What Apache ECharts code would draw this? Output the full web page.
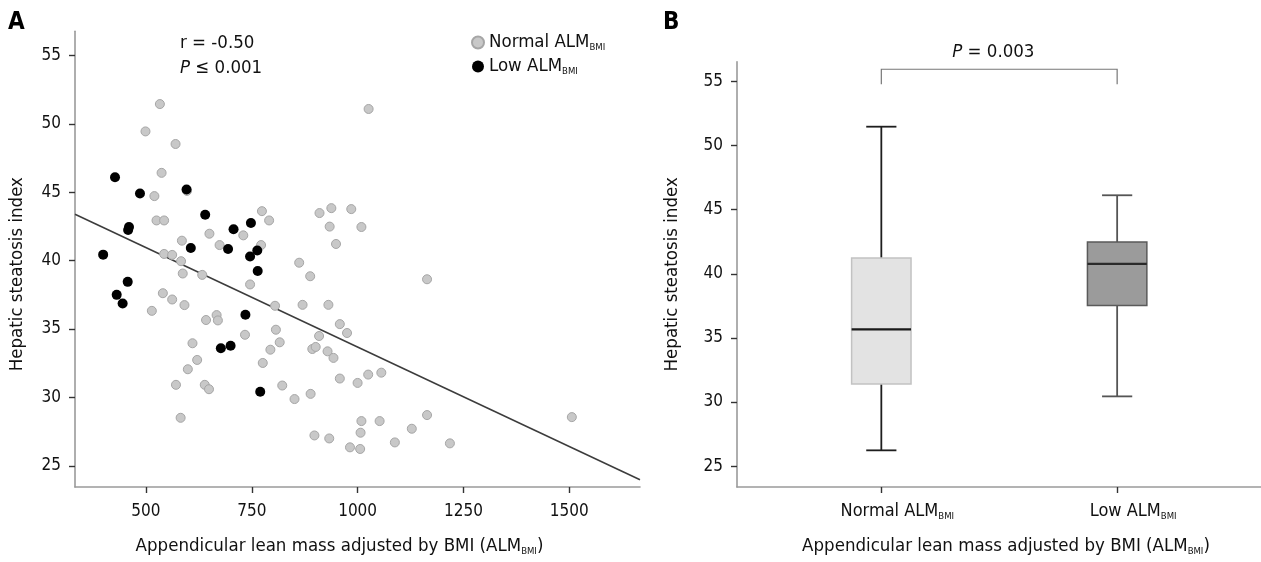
<!DOCTYPE html>
<html><head><meta charset="utf-8">
<script src="https://cdn.jsdelivr.net/npm/echarts@6/dist/echarts.min.js"></script>
<style>html,body{margin:0;padding:0;background:#fff}#c{width:1261px;height:562px}</style>
</head><body><div id="c"></div>
<script>
// ---- Panel A data: scatter of HSI vs ALM_BMI ----
const normalX = [533,499,570,537,597,520,774,791,525,543,650,730,674,772,585,543,562,583,587,633,862,888,746,540,562,591,514,667,670,642,805,870,807,734,610,816,794,621,599,776,571,639,649,822,851,889,582,1026,910,938,985,934,1009,949,1164,931,958,975,909,893,901,929,943,958,1000,1025,1056,1506,1164,1009,1052,1007,1128,898,933,982,1006,1088,1218];
const normalY = [51.45,49.45,48.53,46.42,45.1,44.72,43.62,42.94,42.94,42.94,41.97,41.85,41.14,41.14,41.46,40.49,40.42,39.96,39.06,38.96,39.85,38.86,38.26,37.62,37.16,36.75,36.33,36.02,35.63,35.66,36.7,36.77,34.95,34.58,33.96,34.03,33.49,32.74,32.06,32.52,30.92,30.92,30.6,30.87,29.88,30.26,28.51,51.09,43.48,43.84,43.77,42.49,42.46,41.22,38.64,36.77,35.36,34.71,34.49,33.54,33.69,33.37,32.89,31.38,31.06,31.67,31.81,28.56,28.71,28.27,28.27,27.42,27.71,27.22,27.0,26.35,26.23,26.71,26.64];
const lowX = [427,486,596,640,460,458,707,748,606,694,399,763,746,764,457,431,445,735,677,700,770];
const lowY = [46.1,44.91,45.2,43.36,42.46,42.24,42.29,42.75,40.93,40.85,40.44,40.74,40.3,39.25,38.45,37.5,36.87,36.04,33.59,33.78,30.41];
const fitIntercept = 48.23;
const fitSlope = -0.014545;
const scatterXRange = [332.5, 1667];
const scatterYRange = [23.45, 56.77];
const scatterXTicks = [500, 750, 1000, 1250, 1500];
const scatterYTicks = [25, 30, 35, 40, 45, 50, 55];
const corrR = '-0.50';
const corrP = '0.001';

// ---- Panel B data: box plot ----
const boxCategories = ['Normal ALM', 'Low ALM'];
const boxNormal = [26.23, 31.40, 35.67, 41.23, 51.48]; // min, Q1, median, Q3, max
const boxLow = [30.44, 37.53, 40.77, 42.48, 46.13];
const boxYRange = [23.37, 56.55];
const boxYTicks = [25, 30, 35, 40, 45, 50, 55];
const groupP = '0.003';

const FONT = '"DejaVu Sans Condensed", "DejaVu Sans", sans-serif';
const FS = 17;     // tick labels
const FT = 18.5;   // titles, legend, annotations
const TXT = '#111';
const mkRich = (fs, sub) => ({
  a: { fontSize: fs, color: TXT, fontFamily: FONT, lineHeight: 21 },
  s: { fontSize: sub, color: TXT, fontFamily: FONT, verticalAlign: 'bottom', lineHeight: 9 }
});
const richTitle = mkRich(FT, 9.5);
const richCat = mkRich(18, 9.5);
const axisLineStyle = { color: '#9a9a9a', width: 1.6 };
const tickStyle = { color: '#333', width: 1.4 };
const plainNum = v => String(v);

const chart = echarts.init(document.getElementById('c'), null, { renderer: 'canvas' });

const boxData = [[1].concat(boxNormal), [2].concat(boxLow)];
const boxStyles = [
  { fill: '#e3e3e3', stroke: '#c2c2c2', whisker: '#1e1e1e', median: '#1a1a1a' },
  { fill: '#9b9b9b', stroke: '#5a5a5a', whisker: '#555555', median: '#2a2a2a' }
];
const BOX_W = 0.252, CAP_W = 0.128;

const option = {
  animation: false,
  backgroundColor: '#fff',
  textStyle: { fontFamily: FONT },
  grid: [
    { left: 75, top: 31.3, width: 565, bottom: 73, containLabel: false },
    { left: 737, top: 61.7, right: 0, bottom: 73, containLabel: false }
  ],
  legend: {
    data: ['Normal', 'Low'],
    orient: 'vertical',
    left: 466, top: 28,
    itemWidth: 12, itemHeight: 12, itemGap: 4,
    icon: 'circle',
    formatter: n => '{a|' + n + ' ALM}{s|BMI}',
    textStyle: { rich: richTitle }
  },
  xAxis: [
    {
      gridIndex: 0, type: 'value', min: scatterXRange[0], max: scatterXRange[1],
      axisLine: { lineStyle: axisLineStyle },
      axisTick: { show: true, length: 6, lineStyle: tickStyle, customValues: scatterXTicks },
      axisLabel: { color: TXT, fontSize: FS, fontFamily: FONT, margin: 16, customValues: scatterXTicks, formatter: plainNum },
      splitLine: { show: false },
      name: '{a|Appendicular lean mass adjusted by BMI (ALM}{s|BMI}{a|)}',
      nameLocation: 'middle', nameGap: 49,
      nameTextStyle: { rich: richTitle, padding: [0, 36, 0, 0] }
    },
    {
      gridIndex: 1, type: 'value', min: 0.388, max: 2.61,
      axisLine: { lineStyle: axisLineStyle },
      axisTick: { show: true, length: 6, lineStyle: tickStyle, customValues: [1, 2] },
      axisLabel: {
        customValues: [1, 2], margin: 14,
        formatter: v => '{a|' + boxCategories[Math.round(v) - 1] + '}{s|BMI}',
        rich: richCat, padding: [0, 0, 0, 32]
      },
      splitLine: { show: false },
      name: '{a|Appendicular lean mass adjusted by BMI (ALM}{s|BMI}{a|)}',
      nameLocation: 'middle', nameGap: 49,
      nameTextStyle: { rich: richTitle, padding: [0, 0, 0, 14] }
    }
  ],
  yAxis: [
    {
      gridIndex: 0, type: 'value', min: scatterYRange[0], max: scatterYRange[1],
      axisLine: { show: true, lineStyle: axisLineStyle },
      axisTick: { show: true, length: 6, lineStyle: tickStyle, customValues: scatterYTicks },
      axisLabel: { color: TXT, fontSize: FS, fontFamily: FONT, margin: 14, customValues: scatterYTicks, formatter: plainNum },
      splitLine: { show: false },
      name: 'Hepatic steatosis index', nameLocation: 'middle', nameGap: 48, nameRotate: 90,
      nameTextStyle: { color: TXT, fontSize: FT, fontFamily: FONT, padding: [0, 30, 0, 0] }
    },
    {
      gridIndex: 1, type: 'value', min: boxYRange[0], max: boxYRange[1],
      axisLine: { show: true, lineStyle: axisLineStyle },
      axisTick: { show: true, length: 6, lineStyle: tickStyle, customValues: boxYTicks },
      axisLabel: { color: TXT, fontSize: FS, fontFamily: FONT, margin: 14, customValues: boxYTicks, formatter: plainNum },
      splitLine: { show: false },
      name: 'Hepatic steatosis index', nameLocation: 'middle', nameGap: 55, nameRotate: 90,
      nameTextStyle: { color: TXT, fontSize: FT, fontFamily: FONT }
    }
  ],
  series: [
    {
      name: 'Fit', type: 'line', xAxisIndex: 0, yAxisIndex: 0, symbol: 'none', silent: true,
      lineStyle: { color: '#3c3c3c', width: 1.5 },
      data: scatterXRange.map(x => [x, fitIntercept + fitSlope * x]), z: 1
    },
    {
      name: 'Normal', type: 'scatter', xAxisIndex: 0, yAxisIndex: 0, symbolSize: 9,
      itemStyle: { color: '#c8c8c8', borderColor: '#a6a6a6', borderWidth: 1, opacity: 1 },
      data: normalX.map((x, i) => [x, normalY[i]]), z: 2
    },
    {
      name: 'Low', type: 'scatter', xAxisIndex: 0, yAxisIndex: 0, symbolSize: 10,
      itemStyle: { color: '#000', borderColor: '#000', borderWidth: 0, opacity: 1 },
      data: lowX.map((x, i) => [x, lowY[i]]), z: 3
    },
    {
      name: 'Box', type: 'custom', xAxisIndex: 1, yAxisIndex: 1,
      data: boxData,
      renderItem: function (params, api) {
        const x = api.value(0);
        const st = boxStyles[params.dataIndex];
        const c = api.coord([x, api.value(1)])[0];
        const yMin = api.coord([x, api.value(1)])[1];
        const yQ1 = api.coord([x, api.value(2)])[1];
        const yMed = api.coord([x, api.value(3)])[1];
        const yQ3 = api.coord([x, api.value(4)])[1];
        const yMax = api.coord([x, api.value(5)])[1];
        const hw = api.size([BOX_W, 0])[0] / 2;
        const cw = api.size([CAP_W, 0])[0] / 2;
        const wl = { stroke: st.whisker, lineWidth: 1.8 };
        return {
          type: 'group',
          children: [
            { type: 'line', shape: { x1: c, y1: yMax, x2: c, y2: yQ3 }, style: wl },
            { type: 'line', shape: { x1: c, y1: yQ1, x2: c, y2: yMin }, style: wl },
            { type: 'line', shape: { x1: c - cw, y1: yMax, x2: c + cw, y2: yMax }, style: wl },
            { type: 'line', shape: { x1: c - cw, y1: yMin, x2: c + cw, y2: yMin }, style: wl },
            { type: 'rect', shape: { x: c - hw, y: yQ3, width: 2 * hw, height: yQ1 - yQ3 },
              style: { fill: st.fill, stroke: st.stroke, lineWidth: 1.5 } },
            { type: 'line', shape: { x1: c - hw, y1: yMed, x2: c + hw, y2: yMed },
              style: { stroke: st.median, lineWidth: 2.2 } }
          ]
        };
      }
    }
  ]
};
chart.setOption(option);

// annotations, panel letters and the significance bracket
const bl = chart.convertToPixel({ xAxisIndex: 1, yAxisIndex: 1 }, [1, 55.96]);
const br = chart.convertToPixel({ xAxisIndex: 1, yAxisIndex: 1 }, [2, 55.96]);
const bBot = chart.convertToPixel({ xAxisIndex: 1, yAxisIndex: 1 }, [1, 54.8])[1];
const pTxt = chart.convertToPixel({ xAxisIndex: 1, yAxisIndex: 1 }, [1.475, 57.33]);
const txt = (x, y, rich, str, align) => ({
  type: 'text', x: x, y: y,
  style: { text: str, rich: rich, align: align || 'left', verticalAlign: 'middle', fill: TXT, font: FT + 'px ' + FONT }
});
const richP = {
  i: { fontStyle: 'italic', fontSize: FT, fontFamily: FONT, fill: TXT },
  n: { fontSize: FT, fontFamily: FONT, fill: TXT }
};
chart.setOption({
  graphic: [
    { type: 'text', x: 8, y: 23, style: { text: 'A', font: 'bold 24px ' + FONT, fill: '#000', verticalAlign: 'middle' } },
    { type: 'text', x: 663, y: 23, style: { text: 'B', font: 'bold 24px ' + FONT, fill: '#000', verticalAlign: 'middle' } },
    txt(180, 43, richP, '{n|r = ' + corrR + '}'),
    txt(180, 68, richP, '{i|P}{n| ≤ ' + corrP + '}'),
    txt(pTxt[0], pTxt[1], richP, '{i|P}{n| = ' + groupP + '}', 'center'),
    { type: 'polyline', shape: { points: [[bl[0], bBot], [bl[0], bl[1]], [br[0], br[1]], [br[0], bBot]] },
      style: { stroke: '#777', lineWidth: 1.2, fill: null } }
  ]
});
</script>
</body></html>
